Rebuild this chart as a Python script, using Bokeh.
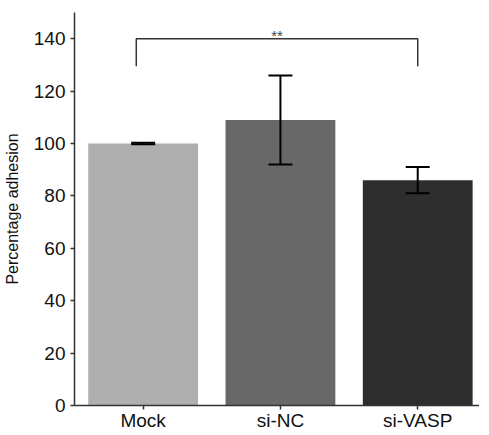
from bokeh.plotting import figure
from bokeh.models import ColumnDataSource, FixedTicker, Range1d, Whisker, TeeHead
from bokeh.embed import file_html
from bokeh.resources import INLINE
from bokeh.core.properties import value

categories = ["Mock", "si-NC", "si-VASP"]
means = [100, 109, 86]
err_low = [99.7, 92, 81]
err_high = [100.3, 126, 91]
colors = ["#afafaf", "#686868", "#2e2e2e"]
y_ticks = [0, 20, 40, 60, 80, 100, 120, 140]
sig_pair = (0, 2)
sig_top = 140
sig_leg = 129.5
sig_label = "**"

xs = [i + 0.5 for i in range(len(categories))]

p = figure(width=479, height=433, output_backend="svg", toolbar_location=None,
           x_range=Range1d(0, 2.95), y_range=Range1d(0, 150),
           min_border_left=69, min_border_top=12, min_border_right=0, min_border_bottom=10)
p.outline_line_color = None
p.grid.visible = False
p.background_fill_color = "white"

src = ColumnDataSource(dict(x=xs, top=means, lo=err_low, hi=err_high, color=colors))
p.vbar(x="x", top="top", width=0.8, bottom=0, source=src, fill_color="color", line_color=None)

w = Whisker(base="x", lower="lo", upper="hi", source=src, line_color="black", line_width=2,
            upper_head=TeeHead(size=24, line_width=2, line_color="black"),
            lower_head=TeeHead(size=24, line_width=2, line_color="black"), level="overlay")
p.add_layout(w)

xl = xs[sig_pair[0]] - 0.05
xr = xs[sig_pair[1]]
p.line([xl, xl, xr, xr], [sig_leg, sig_top, sig_top, sig_leg], line_color="#333333", line_width=1.5)
p.text([(xl + xr) / 2], [sig_top + 1.3], text=[sig_label], text_align="center", text_baseline="alphabetic",
       text_font=value("Liberation Sans"), text_font_size="15px", text_color="#444444")

for ax in (p.xaxis[0], p.yaxis[0]):
    ax.axis_line_color = "#333333"
    ax.axis_line_width = 1.5
    ax.major_tick_line_color = "#333333"
    ax.major_tick_line_width = 1.5
    ax.major_tick_out = 4
    ax.major_tick_in = 0
    ax.minor_tick_line_color = None
    ax.major_label_text_font = "Liberation Sans"
    ax.major_label_text_font_size = "19px"
    ax.major_label_text_color = "#111111"

p.yaxis.ticker = FixedTicker(ticks=y_ticks)
p.xaxis.ticker = FixedTicker(ticks=xs)
p.xaxis.major_label_overrides = {x: c for x, c in zip(xs, categories)}
p.xaxis.major_label_standoff = 0
p.yaxis.major_label_standoff = 5
p.yaxis.axis_label = "Percentage adhesion"
p.yaxis.axis_label_text_font = "Liberation Sans"
p.yaxis.axis_label_text_font_size = "16px"
p.yaxis.axis_label_text_font_style = "normal"
p.yaxis.axis_label_text_color = "#111111"
p.yaxis.axis_label_standoff = 10

open("out.html", "w").write(file_html(p, INLINE))
